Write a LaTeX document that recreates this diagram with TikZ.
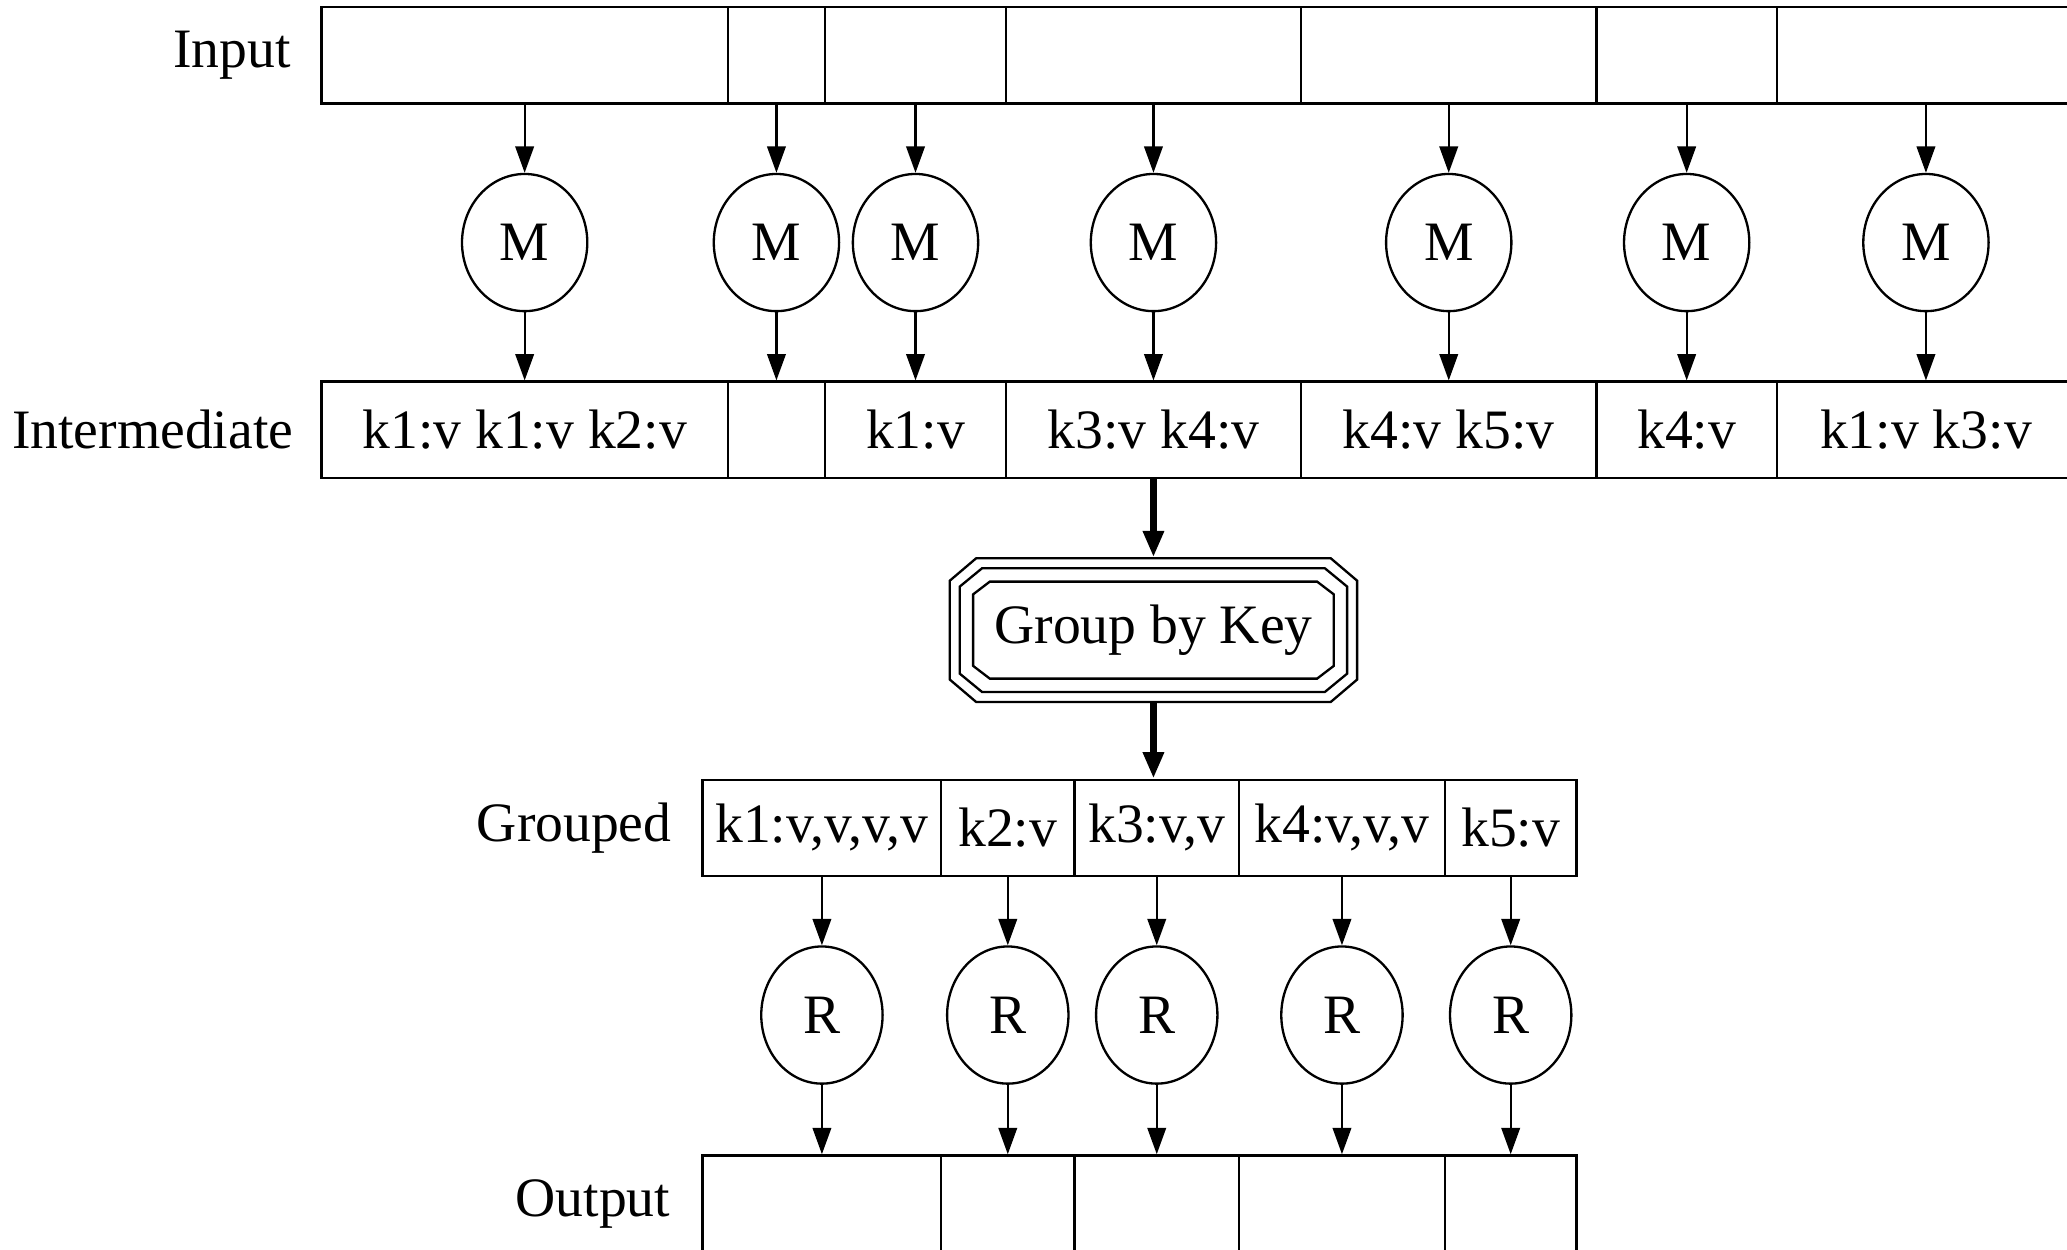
\documentclass[tikz,border=0pt]{standalone}
\usepackage{fontspec}
\setmainfont{Liberation Serif}
\usetikzlibrary{positioning,shapes.geometric,arrows.meta}
\begin{document}
\begin{tikzpicture}[x=0.01cm, y=-0.01cm, font=\fontsize{12}{14}\selectfont,
                    cell/.style = {draw, line width=0.5pt, minimum height=0.73cm, inner sep=0pt},
                    worker/.style = {draw, ellipse, line width=0.5pt, minimum width=0.95cm, minimum height=1.04cm, inner sep=0pt},
                    rowlabel/.style = {inner sep=0pt},
                    arrow/.style = {line width=0.5pt, -{Triangle[length=0.2cm,width=0.14cm]}},
                    bigarrow/.style = {line width=1.6pt, -{Triangle[length=0.2cm,width=0.15cm]}}]
                    \useasboundingbox (0,0) rectangle (1568,948);

                    % map stage
                    \foreach \l/\r/\t [count=\i] in {244/552/{k1:v k1:v k2:v}, 552/626/{}, 626/763/{k1:v},
                        763/987/{k3:v k4:v}, 987/1211/{k4:v k5:v}, 1211/1348/{k4:v}, 1348/1574/{k1:v k3:v}} {
                        \node[cell, minimum width={(\r-\l)*0.01cm}] (in\i) at ({(\l+\r)/2},42) {};
                        \node[worker] (m\i) at ({(\l+\r)/2},184) {M};
                        \node[cell, minimum width={(\r-\l)*0.01cm}] (im\i) at ({(\l+\r)/2},326) {\t};
                        \draw[arrow] (in\i) -- (m\i);
                        \draw[arrow] (m\i) -- (im\i);
                    }
                    \node[rowlabel, left=0.22cm of in1] {Input};
                    \node[rowlabel, left=0.2cm of im1] {Intermediate};

                    % shuffle
                    \node[inner sep=0pt, minimum width=3.09cm, minimum height=1.09cm] (gbk) at (875,478) {Group by Key};
                    \foreach \d in {0,7.6,17.7} {
                        \pgfmathsetmacro\hw{154.5-\d}
                        \pgfmathsetmacro\hh{54.5-\d}
                        \pgfmathsetmacro\cx{20-0.414*\d}
                        \pgfmathsetmacro\cy{17-0.414*\d}
                        \draw[line width=0.5pt, shift={(gbk.center)}]
                            ({-\hw+\cx},{-\hh}) -- ({\hw-\cx},{-\hh}) -- ({\hw},{-\hh+\cy}) -- ({\hw},{\hh-\cy})
                            -- ({\hw-\cx},{\hh}) -- ({-\hw+\cx},{\hh}) -- ({-\hw},{\hh-\cy}) -- ({-\hw},{-\hh+\cy}) -- cycle;
                    }
                    \draw[bigarrow] (im4) -- (gbk);

                    % reduce stage
                    \foreach \l/\r/\t [count=\i] in {533/714/{k1:v,v,v,v}, 714/815/{k2:v}, 815/940/{k3:v,v},
                        940/1096/{k4:v,v,v}, 1096/1196/{k5:v}} {
                        \node[cell, minimum width={(\r-\l)*0.01cm}] (gr\i) at ({(\l+\r)/2},628) {\t};
                        \node[worker, minimum width=0.92cm] (r\i) at ({(\l+\r)/2},770) {R};
                        \node[cell, minimum width={(\r-\l)*0.01cm}] (out\i) at ({(\l+\r)/2},913) {};
                        \draw[arrow] (gr\i) -- (r\i);
                        \draw[arrow] (r\i) -- (out\i);
                    }
                    \node[rowlabel, left=0.22cm of gr1] {Grouped};
                    \node[rowlabel, left=0.23cm of out1] {Output};
                    \draw[bigarrow] (gbk.south) -- (gbk.south |- gr3.north);
                \end{tikzpicture}
\end{document}
